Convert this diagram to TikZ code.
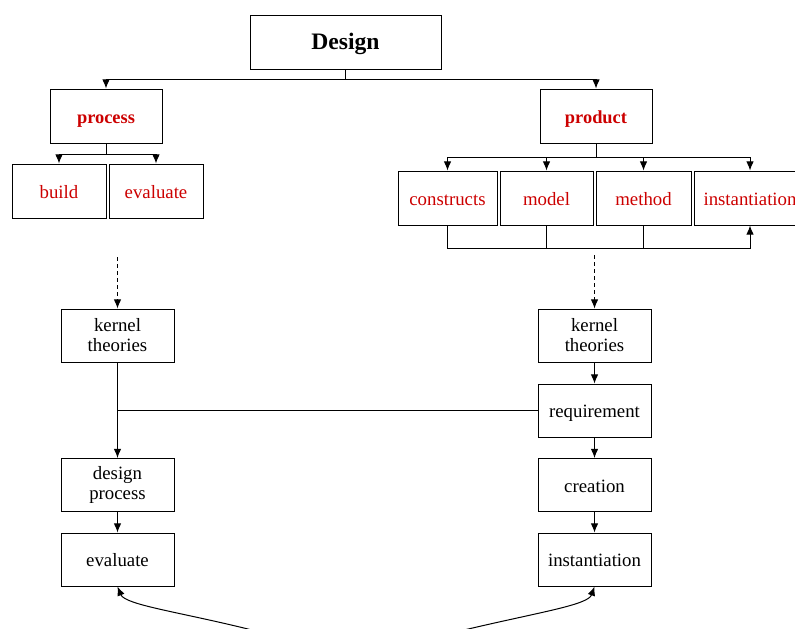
\documentclass[tikz,border=0pt]{standalone}
\usepackage{fontspec}
\setmainfont{Liberation Serif}
\usetikzlibrary{arrows.meta}
\definecolor{boxred}{RGB}{204,0,0}
\tikzset{
  blk/.style={draw,line width=0.5pt,inner sep=0pt,align=center,font=\fontsize{9.4}{10}\selectfont},
  one/.style={text height=0.8em,text depth=0.1em},
  cell/.style={blk,minimum width=56.5pt,minimum height=26.5pt},
  redcell/.style={blk,one,text=boxred,minimum height=27pt},
}
\begin{document}
\begin{tikzpicture}[x=0.5pt,y=-0.5pt,>={Latex[length=4.6pt,width=3.8pt]},line width=0.5pt]
	\useasboundingbox (0,0) rectangle (795,628);
	\clip (0,0) rectangle (795,628);
	% upper tree
	\node[blk,one,minimum width=95.5pt,minimum height=27pt,font=\fontsize{11.8}{13}\selectfont\bfseries] (design) at (345.5,42) {Design};
	\node[redcell,minimum width=56pt,font=\fontsize{9.2}{10}\selectfont\bfseries] (process) at (106,116) {process};
	\node[redcell,minimum width=56pt,font=\fontsize{9.2}{10}\selectfont\bfseries] (product) at (596,116) {product};
	\node[redcell,minimum width=47pt] (build) at (59,191) {build};
	\node[redcell,minimum width=47pt] (evala) at (156,191) {evaluate};
	\node[redcell,minimum width=49.5pt] (constructs) at (447.5,198) {constructs};
	\node[redcell,minimum width=46.5pt] (model) at (546.5,198) {model};
	\node[redcell,minimum width=47.5pt] (method) at (643.5,198) {method};
	\node[redcell,minimum width=56pt] (insta) at (750,198) {instantiation};
	\draw[->] (design.south) -- ++(0,10) -| (process.north);
	\draw[->] (design.south) -- ++(0,10) -| (product.north);
	\draw[->] (process.south) -- ++(0,11) -| (build.north);
	\draw[->] (process.south) -- ++(0,11) -| (evala.north);
	\foreach \n in {constructs,model,method,insta}
		\draw[->] (product.south) -- ++(0,14) -| (\n.north);
	\draw[->] (constructs.south) -- ++(0,23) -| (insta.south);
	\draw (model.south) -- ++(0,23);
	\draw (method.south) -- ++(0,23);
	% lower part
	\node[cell] (kernl) at (117.5,335.5) {kernel\\theories};
	\node[cell] (dproc) at (117.5,485) {design\\process};
	\node[cell,one] (evalb) at (117.5,559.5) {evaluate};
	\node[cell] (kernr) at (594.5,335.5) {kernel\\theories};
	\node[cell,one] (req) at (594.5,410.5) {requirement};
	\node[cell,one] (creation) at (594.5,485) {creation};
	\node[cell,one] (instb) at (594.5,559.5) {instantiation};
	\coordinate (dl) at (117.5,257);
	\coordinate (dr) at (594.5,255);
	\draw[->,dash pattern=on 2pt off 1.5pt] (dl) -- (kernl.north);
	\draw[->,dash pattern=on 2pt off 1.5pt] (dr) -- (kernr.north);
	\draw[->] (kernl.south) -- (dproc.north);
	\draw (req.west) -- (kernl.south |- req.west);
	\draw[->] (dproc) -- (evalb);
	\draw[->] (kernr) -- (req);
	\draw[->] (req) -- (creation);
	\draw[->] (creation) -- (instb);
	\coordinate (cl) at (252,630);
	\coordinate (cr) at (464,630);
	\draw[->] (cl) .. controls (180,612) and (125,605) .. (evalb.south);
	\draw[->] (cr) .. controls (540,612) and (588,605) .. (instb.south);
\end{tikzpicture}
\end{document}
